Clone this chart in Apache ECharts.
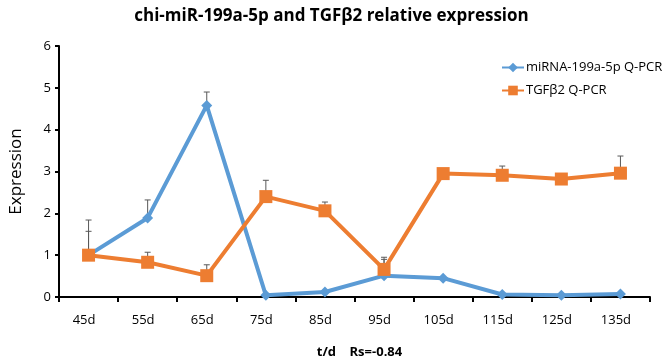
<!DOCTYPE html>
<html>
<head>
<meta charset="utf-8">
<script src="https://cdn.jsdelivr.net/npm/echarts@6/dist/echarts.min.js"></script>
<style>
  html, body { margin: 0; padding: 0; background: #fff; }
  #chart { width: 663px; height: 364px; }
</style>
</head>
<body>
<div id="chart"></div>
<script>
const categories = ['45d', '55d', '65d', '75d', '85d', '95d', '105d', '115d', '125d', '135d'];
const mirna = [1.0, 1.89, 4.58, 0.04, 0.12, 0.51, 0.45, 0.06, 0.04, 0.07];
const tgfb2 = [1.0, 0.83, 0.51, 2.40, 2.06, 0.66, 2.95, 2.91, 2.82, 2.96];
// upper ends of error bars (null = none visible)
const mirnaErr = [1.84, 2.32, 4.90, null, null, 0.90, null, null, null, null];
const tgfb2Err = [1.57, 1.07, 0.77, 2.79, 2.27, 0.95, null, 3.13, null, 3.37];
const yTicks = [0, 1, 2, 3, 4, 5, 6];

const font = 'Open Sans';

function errData(vals, errs) {
    return vals.map((v, i) => errs[i] == null ? null : [i, v, errs[i]]).filter(d => d);
}

function errorBar(params, api) {
    const base = api.coord([api.value(0), api.value(1)]);
    const top = api.coord([api.value(0), api.value(2)]);
    const w = 3;
    return {
        type: 'group',
        children: [
            { type: 'line', shape: { x1: base[0], y1: base[1], x2: top[0], y2: top[1] }, style: { stroke: '#595959', lineWidth: 1 } },
            { type: 'line', shape: { x1: top[0] - w, y1: top[1], x2: top[0] + w, y2: top[1] }, style: { stroke: '#595959', lineWidth: 1 } }
        ]
    };
}

const chart = echarts.init(document.getElementById('chart'));
chart.setOption({
    animation: false,
    title: {
        text: 'chi-miR-199a-5p and TGFβ2 relative expression',
        left: 'center',
        top: 3,
        textStyle: { fontFamily: font, fontSize: 17, fontWeight: 'bold', color: '#000' }
    },
    legend: {
        orient: 'vertical',
        left: 496,
        top: 56,
        itemWidth: 22,
        itemHeight: 12,
        itemGap: 10,
        data: ['miRNA-199a-5p Q-PCR', 'TGFβ2 Q-PCR'],
        textStyle: { fontFamily: font, fontSize: 13, color: '#000', padding: [0, 0, 0, -3] }
    },
    grid: { left: 52, right: 13, top: 46, bottom: 66 },
    xAxis: {
        type: 'category',
        data: categories,
        boundaryGap: true,
        name: 't/d    Rs=-0.84',
        nameLocation: 'middle',
        nameGap: 49,
        nameTextStyle: { fontFamily: font, fontSize: 13, fontWeight: 'bold', color: '#000', padding: [0, 0, 0, 10] },
        axisLine: { lineStyle: { color: '#000', width: 2 } },
        axisTick: { show: true, length: 5, alignWithLabel: false, lineStyle: { color: '#000', width: 2 } },
        axisLabel: { fontFamily: font, fontSize: 13, color: '#000', margin: 17, padding: [0, 9, 0, 0] }
    },
    yAxis: {
        type: 'value',
        min: 0,
        max: 6,
        interval: 1,
        name: 'Expression',
        nameLocation: 'middle',
        nameGap: 34,
        nameTextStyle: { fontFamily: font, fontSize: 17, color: '#000' },
        axisLine: { show: true, lineStyle: { color: '#000', width: 2 } },
        axisTick: { show: true, length: 4, lineStyle: { color: '#000', width: 2 } },
        axisLabel: { fontFamily: font, fontSize: 13, color: '#000', margin: 8, formatter: v => yTicks.includes(v) ? String(v) : '' },
        splitLine: { show: false }
    },
    series: [
        {
            name: 'miRNA-199a-5p Q-PCR',
            type: 'line',
            data: mirna,
            symbol: 'diamond',
            symbolSize: 11,
            itemStyle: { color: '#5B9BD5' },
            lineStyle: { color: '#5B9BD5', width: 4 },
            z: 3
        },
        {
            name: 'TGFβ2 Q-PCR',
            type: 'line',
            data: tgfb2,
            symbol: 'rect',
            symbolSize: 13,
            itemStyle: { color: '#ED7D31' },
            lineStyle: { color: '#ED7D31', width: 4 },
            z: 4
        },
        {
            type: 'custom',
            renderItem: errorBar,
            data: errData(mirna, mirnaErr),
            z: 2,
            silent: true
        },
        {
            type: 'custom',
            renderItem: errorBar,
            data: errData(tgfb2, tgfb2Err),
            z: 2,
            silent: true
        }
    ]
});
</script>
</body>
</html>
